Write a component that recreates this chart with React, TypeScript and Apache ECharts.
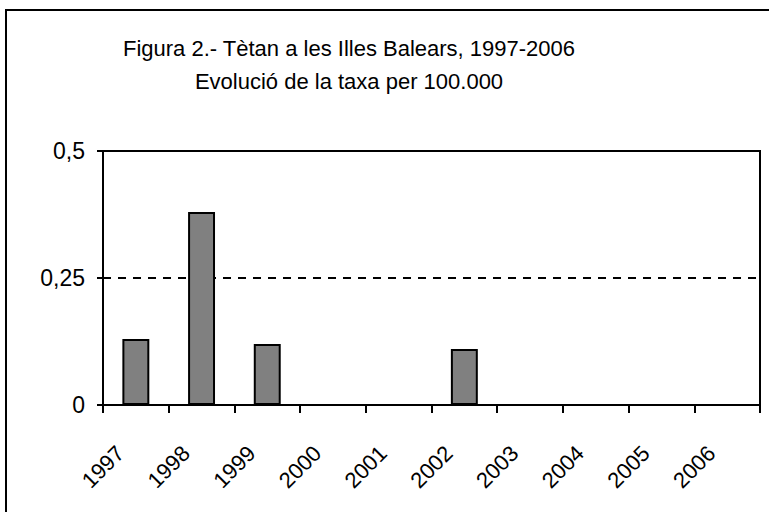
import React, { useEffect, useRef } from "react";
import * as echarts from "echarts";

const titleLines = ["Figura 2.- Tètan a les Illes Balears, 1997-2006", "Evolució de la taxa per 100.000"];
const years = ["1997", "1998", "1999", "2000", "2001", "2002", "2003", "2004", "2005", "2006"];
const rates = [0.13, 0.38, 0.12, 0, 0, 0.11, 0, 0, 0, 0];
const yMin = 0;
const yMax = 0.5;
const yStep = 0.25;

export default function App() {
  const ref = useRef<HTMLDivElement>(null);
  useEffect(() => {
    if (!ref.current) return;
    const chart = echarts.init(ref.current, undefined, { renderer: "svg" });
    const font = "Liberation Sans, Arial, Helvetica, sans-serif";
    chart.setOption({
      animation: false,
      backgroundColor: "#fff",
      title: {
        text: titleLines.join("\n"),
        left: 344,
        top: 27,
        textAlign: "center",
        textStyle: { fontFamily: font, fontSize: 22, fontWeight: "normal", color: "#000", lineHeight: 33 },
      },
      graphic: [
        {
          type: "rect",
          shape: { x: 6, y: 10, width: 900, height: 900 },
          style: { fill: "none", stroke: "#000", lineWidth: 2 },
          silent: true,
        },
      ],
      grid: { left: 103, right: 9, top: 151, bottom: 107, show: true, borderColor: "#000", borderWidth: 2 },
      xAxis: {
        type: "category",
        data: years,
        boundaryGap: true,
        axisLine: { lineStyle: { color: "#000", width: 2 } },
        axisTick: { show: true, length: 8, lineStyle: { color: "#000", width: 2 } },
        axisLabel: {
          rotate: 45,
          margin: 29,
          fontFamily: font,
          fontSize: 22,
          color: "#000",
          padding: [0, 22, 44, 0],
          interval: 0,
        },
      },
      yAxis: {
        type: "value",
        min: yMin,
        max: yMax,
        interval: yStep,
        axisLine: { show: true, lineStyle: { color: "#000", width: 2 } },
        axisTick: { show: true, length: 6, lineStyle: { color: "#000", width: 2 } },
        axisLabel: {
          margin: 18,
          fontFamily: font,
          fontSize: 23,
          color: "#000",
          formatter: (v: number) => String(v).replace(".", ","),
        },
        splitLine: { show: true, lineStyle: { color: "#000", width: 2, type: [8, 7] } },
      },
      series: [
        {
          type: "bar",
          data: rates,
          barWidth: "41%",
          itemStyle: { color: "#808080", borderColor: "#000", borderWidth: 2 },
        },
      ],
    });
    return () => chart.dispose();
  }, []);
  return <div ref={ref} style={{ position: "fixed", left: 0, top: 0, width: 769, height: 512 }} />;
}
